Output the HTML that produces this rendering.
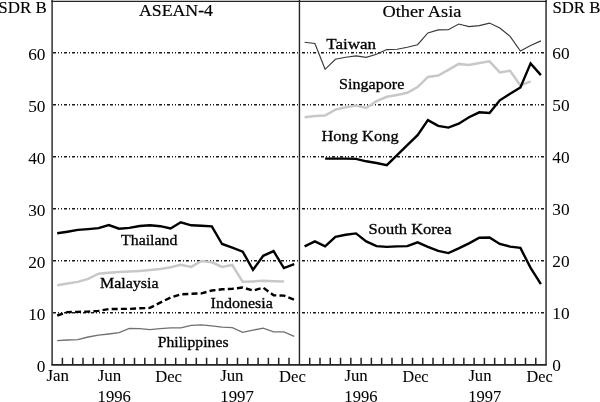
<!DOCTYPE html><html><head><meta charset="utf-8"><style>html,body{margin:0;padding:0;background:#fff;width:600px;height:402px;overflow:hidden}svg{display:block;will-change:transform}text{font-family:"Liberation Serif",serif;fill:#000;stroke:#000}</style></head><body>
<svg width="600" height="402" viewBox="0 0 600 402">
<rect width="600" height="402" fill="#fff"/>
<path d="M52.10 312.7H299.30 M52.10 260.7H299.30 M52.10 208.7H299.30 M52.10 156.7H299.30 M52.10 104.7H299.30 M52.10 52.7H299.30" fill="none" stroke="#1a1a1a" stroke-width="1.4" stroke-dasharray="3 2 1 2 1 2 3 2 1 2" stroke-dashoffset="-0.9"/>
<path d="M299.45 312.7H546.05 M299.45 260.7H546.05 M299.45 208.7H546.05 M299.45 156.7H546.05 M299.45 104.7H546.05 M299.45 52.7H546.05" fill="none" stroke="#1a1a1a" stroke-width="1.4" stroke-dasharray="3 2 1 2 1 2 3 2 1 2" stroke-dashoffset="-2.55"/>
<path d="M62.40 364.8V357.8 M72.70 364.8V357.8 M83.00 364.8V357.8 M93.30 364.8V357.8 M103.60 364.8V357.8 M113.90 364.8V357.8 M124.20 364.8V357.8 M134.50 364.8V357.8 M144.80 364.8V357.8 M155.10 364.8V357.8 M165.40 364.8V357.8 M175.70 364.8V357.8 M186.00 364.8V357.8 M196.30 364.8V357.8 M206.60 364.8V357.8 M216.90 364.8V357.8 M227.20 364.8V357.8 M237.50 364.8V357.8 M247.80 364.8V357.8 M258.10 364.8V357.8 M268.40 364.8V357.8 M278.70 364.8V357.8 M289.00 364.8V357.8 M309.72 364.8V357.8 M320.00 364.8V357.8 M330.27 364.8V357.8 M340.55 364.8V357.8 M350.82 364.8V357.8 M361.10 364.8V357.8 M371.38 364.8V357.8 M381.65 364.8V357.8 M391.93 364.8V357.8 M402.20 364.8V357.8 M412.48 364.8V357.8 M422.75 364.8V357.8 M433.02 364.8V357.8 M443.30 364.8V357.8 M453.57 364.8V357.8 M463.85 364.8V357.8 M474.12 364.8V357.8 M484.40 364.8V357.8 M494.67 364.8V357.8 M504.95 364.8V357.8 M515.23 364.8V357.8 M525.50 364.8V357.8 M535.77 364.8V357.8" fill="none" stroke="#222" stroke-width="1.5"/>
<polyline points="57.2,340.6 67.5,340.0 77.8,339.6 88.2,337.0 98.5,335.2 108.8,334.0 119.1,332.6 129.3,328.5 139.7,328.7 150.0,329.6 160.2,328.7 170.6,327.9 180.8,327.9 191.2,325.3 201.5,324.8 211.8,325.8 222.1,327.2 232.3,327.6 242.7,332.3 253.0,330.2 263.2,328.1 273.6,331.9 283.9,331.9 294.2,336.3" fill="none" style="stroke:#707070;stroke-width:1.3;stroke-linejoin:miter;stroke-linecap:butt"/>
<polyline points="57.2,285.2 67.5,283.6 77.8,281.9 88.2,278.9 98.5,273.7 108.8,272.7 119.1,272.1 129.3,271.6 139.7,270.9 150.0,270.0 160.2,268.9 170.6,267.3 180.8,264.7 191.2,266.9 201.5,261.0 211.8,262.3 222.1,266.9 232.3,265.0 242.7,281.8 253.0,281.4 263.2,280.8 273.6,281.3 283.9,281.6" fill="none" style="stroke:#c8c8c8;stroke-width:2.5;stroke-linejoin:miter;stroke-linecap:butt"/>
<polyline points="57.2,315.5 67.5,312.1 77.8,311.9 88.2,311.6 98.5,310.9 108.8,309.1 119.1,308.9 129.3,308.9 139.7,308.3 150.0,307.9 160.2,302.6 170.6,297.6 180.8,294.4 191.2,293.8 201.5,293.4 211.8,290.5 222.1,289.3 232.3,288.8 242.7,287.5 253.0,290.6 263.2,287.6 273.6,295.3 283.9,295.6 294.2,299.6" fill="none" style="stroke:#000;stroke-width:2.4;stroke-dasharray:6 3.2;stroke-linejoin:miter;stroke-linecap:butt"/>
<polyline points="57.2,233.3 67.5,231.7 77.8,229.9 88.2,229.1 98.5,228.1 108.8,225.0 119.1,228.7 129.3,227.9 139.7,226.0 150.0,225.2 160.2,226.2 170.6,228.5 180.8,222.3 191.2,225.3 201.5,225.7 211.8,226.3 222.1,244.0 232.3,247.7 242.7,251.6 253.0,269.8 263.2,255.8 273.6,251.1 283.9,268.1 294.2,264.1" fill="none" style="stroke:#000;stroke-width:2.4;stroke-linejoin:miter;stroke-linecap:butt"/>
<polyline points="304.6,42.3 314.9,43.5 325.1,69.3 335.4,59.3 345.7,57.3 356.0,55.9 366.2,57.3 376.5,54.3 386.8,49.6 397.1,49.3 407.3,47.2 417.6,44.7 427.9,32.9 438.2,29.9 448.4,29.7 458.7,24.0 469.0,26.6 479.3,25.6 489.5,23.1 499.8,28.0 510.1,36.3 520.4,51.0 530.6,45.5 540.9,40.9" fill="none" style="stroke:#383838;stroke-width:1.15;stroke-linejoin:miter;stroke-linecap:butt"/>
<polyline points="304.6,117.2 314.9,116.0 325.1,115.6 335.4,109.6 345.7,107.2 356.0,105.6 366.2,108.0 376.5,101.1 386.8,96.8 397.1,94.9 407.3,92.8 417.6,87.1 427.9,76.9 438.2,75.6 448.4,69.8 458.7,63.9 469.0,65.1 479.3,63.1 489.5,61.3 499.8,72.4 510.1,70.8 520.4,85.4 530.6,81.3" fill="none" style="stroke:#c8c8c8;stroke-width:2.5;stroke-linejoin:miter;stroke-linecap:butt"/>
<polyline points="325.1,158.6 335.4,158.6 345.7,158.6 356.0,158.9 366.2,161.3 376.5,163.0 386.8,165.1 397.1,155.1 407.3,145.2 417.6,135.1 427.9,120.1 438.2,125.9 448.4,127.6 458.7,123.7 469.0,117.2 479.3,112.3 489.5,112.9 499.8,100.3 510.1,93.8 520.4,87.5 530.6,63.4 540.9,75.1" fill="none" style="stroke:#000;stroke-width:2.4;stroke-linejoin:miter;stroke-linecap:butt"/>
<polyline points="304.6,246.4 314.9,241.4 325.1,246.4 335.4,236.8 345.7,234.8 356.0,233.4 366.2,241.4 376.5,246.1 386.8,246.9 397.1,246.4 407.3,246.1 417.6,242.3 427.9,246.8 438.2,250.9 448.4,253.1 458.7,248.4 469.0,243.4 479.3,237.8 489.5,237.5 499.8,243.9 510.1,246.6 520.4,247.9 530.6,267.9 540.9,284.1" fill="none" style="stroke:#000;stroke-width:2.4;stroke-linejoin:miter;stroke-linecap:butt"/>
<path d="M52.10 0V364.8 M299.45 0V364.8 M546.05 0V364.8" fill="none" stroke="#222" stroke-width="1.4"/>
<path d="M51.35 1.45H546.80" fill="none" stroke="#222" stroke-width="1.3"/>
<path d="M51.35 364.90H546.80" fill="none" stroke="#222" stroke-width="1.7"/>
<text transform="translate(-1.67 12.80) scale(1.0397 1)" font-size="16.3" style="stroke-width:0.12px">SDR B</text>
<text transform="translate(552.45 12.80) scale(1.0286 1)" font-size="16.3" style="stroke-width:0.12px">SDR B</text>
<text transform="translate(138.98 16.48) scale(1.0209 1)" font-size="17.4" style="stroke-width:0.2px">ASEAN-4</text>
<text transform="translate(382.50 16.78) scale(1.0534 1)" font-size="17.4" style="stroke-width:0.2px">Other Asia</text>
<text transform="translate(46.43 381.19) scale(1.0256 1)" font-size="16.5" style="stroke-width:0.06px">Jan</text>
<text transform="translate(97.68 381.49) scale(1.0278 1)" font-size="16.5" style="stroke-width:0.06px">Jun</text>
<text transform="translate(155.18 381.59) scale(1.0088 1)" font-size="16.5" style="stroke-width:0.06px">Dec</text>
<text transform="translate(220.18 381.49) scale(1.0189 1)" font-size="16.5" style="stroke-width:0.06px">Jun</text>
<text transform="translate(279.08 381.59) scale(1.0088 1)" font-size="16.5" style="stroke-width:0.06px">Dec</text>
<text transform="translate(344.38 381.49) scale(1.0189 1)" font-size="16.5" style="stroke-width:0.06px">Jun</text>
<text transform="translate(402.50 381.59) scale(0.9775 1)" font-size="16.5" style="stroke-width:0.06px">Dec</text>
<text transform="translate(468.39 381.49) scale(1.0099 1)" font-size="16.5" style="stroke-width:0.06px">Jun</text>
<text transform="translate(526.49 381.59) scale(0.9853 1)" font-size="16.5" style="stroke-width:0.06px">Dec</text>
<text transform="translate(97.54 402.09) scale(0.9935 1)" font-size="16.8" style="stroke-width:0.06px">1996</text>
<text transform="translate(220.33 402.09) scale(0.9998 1)" font-size="16.8" style="stroke-width:0.06px">1997</text>
<text transform="translate(344.35 402.09) scale(0.9872 1)" font-size="16.8" style="stroke-width:0.06px">1996</text>
<text transform="translate(468.25 402.09) scale(0.9840 1)" font-size="16.8" style="stroke-width:0.06px">1997</text>
<text transform="translate(121.00 244.61) scale(1.0249 1)" font-size="15.5" style="stroke-width:0.3px">Thailand</text>
<text transform="translate(99.90 288.01) scale(1.0323 1)" font-size="15.5" style="stroke-width:0.3px">Malaysia</text>
<text transform="translate(210.60 307.71) scale(1.0339 1)" font-size="15.5" style="stroke-width:0.3px">Indonesia</text>
<text transform="translate(157.71 346.81) scale(1.0162 1)" font-size="15.5" style="stroke-width:0.3px">Philippines</text>
<text transform="translate(326.28 49.01) scale(1.0991 1)" font-size="15.5" style="stroke-width:0.3px">Taiwan</text>
<text transform="translate(339.09 89.31) scale(1.0388 1)" font-size="15.5" style="stroke-width:0.3px">Singapore</text>
<text transform="translate(321.49 140.71) scale(1.0600 1)" font-size="15.5" style="stroke-width:0.3px">Hong Kong</text>
<text transform="translate(368.57 233.71) scale(1.0649 1)" font-size="15.5" style="stroke-width:0.3px">South Korea</text>
<text transform="translate(36.80 371.94) scale(1.0301 1)" font-size="16.8" style="stroke-width:0.0px">0</text>
<text transform="translate(552.34 370.89) scale(1.0301 1)" font-size="16.8" style="stroke-width:0.0px">0</text>
<text transform="translate(28.14 319.54) scale(1.0301 1)" font-size="16.8" style="stroke-width:0.0px">10</text>
<text transform="translate(552.34 318.56) scale(1.0301 1)" font-size="16.8" style="stroke-width:0.0px">10</text>
<text transform="translate(28.14 267.54) scale(1.0301 1)" font-size="16.8" style="stroke-width:0.0px">20</text>
<text transform="translate(552.34 266.56) scale(1.0301 1)" font-size="16.8" style="stroke-width:0.0px">20</text>
<text transform="translate(28.14 215.54) scale(1.0301 1)" font-size="16.8" style="stroke-width:0.0px">30</text>
<text transform="translate(552.34 214.56) scale(1.0301 1)" font-size="16.8" style="stroke-width:0.0px">30</text>
<text transform="translate(28.14 163.54) scale(1.0301 1)" font-size="16.8" style="stroke-width:0.0px">40</text>
<text transform="translate(552.34 162.56) scale(1.0301 1)" font-size="16.8" style="stroke-width:0.0px">40</text>
<text transform="translate(28.14 111.54) scale(1.0301 1)" font-size="16.8" style="stroke-width:0.0px">50</text>
<text transform="translate(552.34 110.56) scale(1.0301 1)" font-size="16.8" style="stroke-width:0.0px">50</text>
<text transform="translate(28.14 59.54) scale(1.0301 1)" font-size="16.8" style="stroke-width:0.0px">60</text>
<text transform="translate(552.34 58.56) scale(1.0301 1)" font-size="16.8" style="stroke-width:0.0px">60</text>
</svg></body></html>
